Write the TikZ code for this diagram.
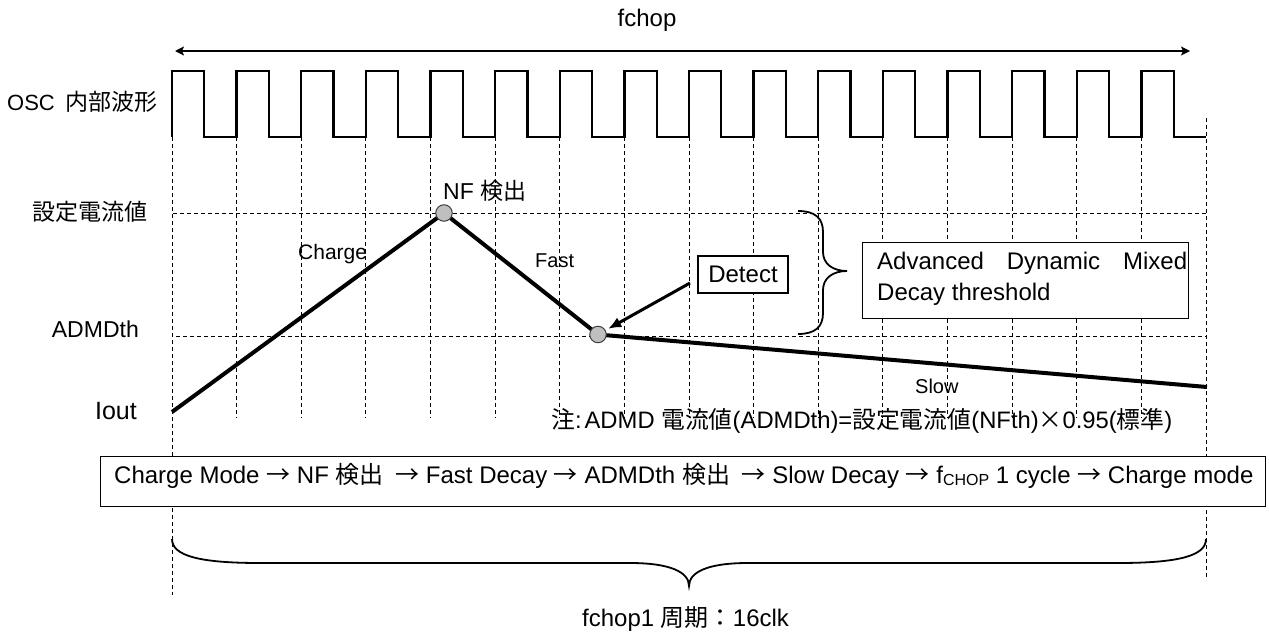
\documentclass[tikz,border=0pt]{standalone}
\usepackage{fontspec}
\setmainfont{Liberation Sans}
\newfontfamily\cjk{Noto Sans CJK JP}
\usetikzlibrary{arrows.meta}
\newcommand\J[1]{{\cjk #1}}
\newcommand\fs[1]{\fontsize{#1}{#1}\selectfont}
\begin{document}
\begin{tikzpicture}[x=1pt,y=-1pt,
  grid/.style={dash pattern=on 4pt off 3pt, line width=0.9pt},
  wave/.style={line width=2.3pt, line join=miter},
  curr/.style={line width=4pt},
  dot/.style={circle, draw=black!75, line width=1pt, fill=black!25, minimum size=16.5pt, inner sep=0pt},
  lbl/.style={inner sep=0pt},
  box/.style={draw, line width=1.3pt, fill=white, inner sep=0pt},
  brc/.style={line width=1.8pt},
]
\useasboundingbox (0,0) rectangle (1269,632);
\fill[white] (0,0) rectangle (1269,632);

% grid
\foreach \k in {1,...,15}{\draw[grid] ({172+64.625*\k},137) -- ({172+64.625*\k},418);}
\draw[grid] (172,137) -- (172,595);
\draw[grid] (1206,118) -- (1206,580);
\draw[grid] (173,213) -- (1206,213);
\draw[grid] (176,336) -- (1206,336);

% oscillator waveform
\draw[wave] (172,137) foreach \k in {1,...,16}{ -- ++(0,-66) -- ++(32.3,0) -- ++(0,66) -- ++(32.325,0)};

% fchop arrow
\coordinate (fl) at (175,51);
\coordinate (fr) at (1190,51);
\draw[line width=1.6pt, {Stealth[length=9pt,width=9pt,inset=2pt]}-{Stealth[length=9pt,width=9pt,inset=2pt]}] (fl) -- (fr);
\node[lbl, anchor=base, font={\fs{24}}] (fchop) at (647,26) {fchop};

% current
\coordinate (i0) at (172,412);
\coordinate (nfp) at (444,213);
\coordinate (adp) at (598,334.5);
\coordinate (se) at (1207,387);
\draw[curr] (i0) -- (nfp) -- (adp) -- (se);
\node[dot] (nf) at (nfp) {};
\node[dot] (ad) at (adp) {};

% labels
\node[lbl, anchor=base west, font={\fs{22}}] (osc) at (7,110.5) {OSC \hspace{5pt}{\fs{23}\J{内部波形}}};
\node[lbl, anchor=base east, font={\fs{23}}] (set) at (147.5,220.5) {\J{設定電流値}};
\node[lbl, anchor=base east, font={\fs{23}}] (admth) at (139,337) {ADMDth};
\node[lbl, anchor=base east, font={\fs{25}}] (iout) at (137,419) {Iout};
\node[lbl, anchor=base west, font={\fs{21}}] (chg) at (298,259) {Charge};
\node[lbl, anchor=base west, font={\fs{23}}] (nft) at (443,199) {NF \J{検出}};
\node[lbl, anchor=base west, font={\fs{20}}] (fast) at (535,267) {Fast};
\node[lbl, anchor=base west, font={\fs{20}}] (slow) at (915,393) {Slow};

% detect
\node[box, minimum width=90pt, minimum height=37pt, font={\fs{24}}] (det) at (743,274.5) {Detect};
\coordinate (ds) at (690,283);
\draw[line width=3pt, -{Latex[length=13pt,width=11pt]}, shorten >=3pt] (ds) -- (ad);

% right brace and ADMD box
\draw[brc] (798,211) .. controls (815,211) and (823,218) .. (823,232) -- (823,252) .. controls (823,264) and (833,271) .. (847,271) .. controls (833,271) and (823,278) .. (823,290) -- (823,313) .. controls (823,327) and (815,334) .. (798,334);
\node[box, minimum width=326pt, minimum height=76pt, anchor=north west] (adm) at (862,242) {};
\node[lbl, anchor=base west, font={\fs{24}}] (adm1) at (877,269) {\makebox[310pt][s]{Advanced Dynamic Mixed}};
\node[lbl, anchor=base west, font={\fs{24}}] (adm2) at (877,300) {Decay threshold};

% note
\node[lbl, anchor=base west, font={\fs{23.8}}] (note) at (551,428) {\J{注}:\hspace{3pt}ADMD \J{電流値}(ADMDth)=\J{設定電流値}(NFth)\J{×}0.95(\J{標準})};

% flow box
\node[box, minimum width=1165pt, minimum height=50pt, anchor=north west] (flow) at (100,456) {};
\node[lbl, anchor=base west, font={\fs{24}}] (flowt) at (114,483) {Charge Mode \J{→} NF \J{検出}\hspace{5pt} \J{→} Fast Decay \J{→} ADMDth \J{検出}\hspace{5pt} \J{→} Slow Decay \J{→} f\raisebox{-2pt}{\fs{16}CHOP} 1 cycle \J{→} Charge mode};

% bottom brace
\draw[brc] (172,539) .. controls (172,556) and (200,563) .. (260,563) -- (630,563) .. controls (670,563) and (689,572) .. (689,586) .. controls (689,572) and (708,563) .. (748,563) -- (1118,563) .. controls (1178,563) and (1206,556) .. (1206,539);
\node[lbl, anchor=base west, font={\fs{24}}] (per) at (582,626) {fchop1 \J{周期：}16clk};
\end{tikzpicture}
\end{document}
